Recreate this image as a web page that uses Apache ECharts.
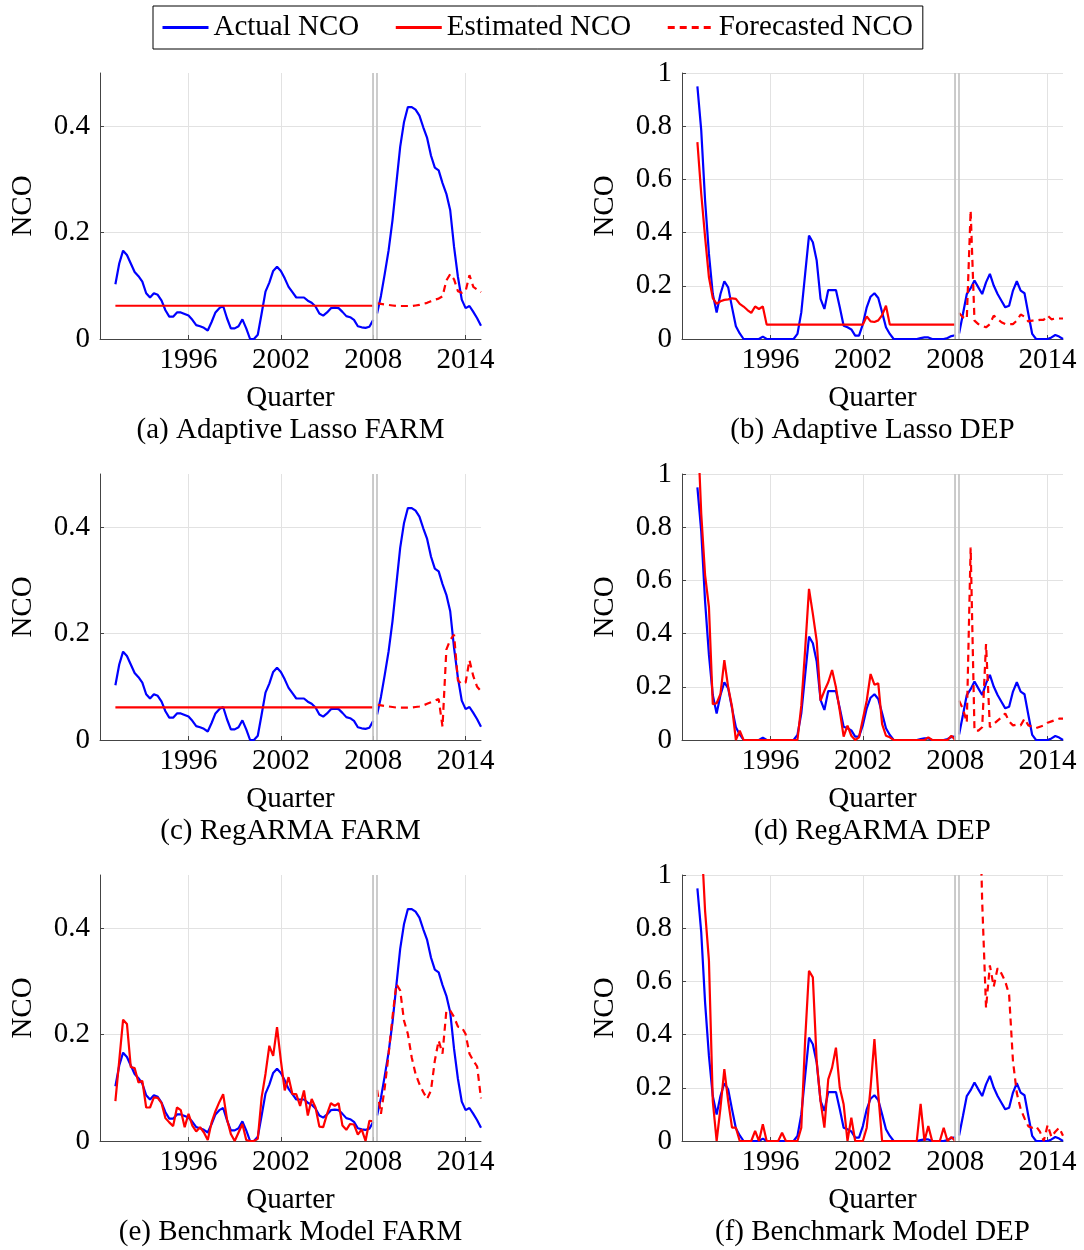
<!DOCTYPE html>
<html>
<head>
<meta charset="utf-8">
<script src="https://cdn.jsdelivr.net/npm/echarts@6/dist/echarts.min.js"></script>
<style>
html, body { margin: 0; background: #fff; }
#main { width: 1084px; height: 1250px; }
</style>
</head>
<body>
<div id="main"></div>
<script>
// quarterly NCO, first quarter 1991Q2, last 2015Q1; in-sample up to 2008Q1 (68 qtrs), forecast 28 qtrs
var startQuarter = 1991.25;
var xTicks = [1996, 2002, 2008, 2014];
var farmTicks = [0, 0.2, 0.4];
var captions = ['(a) Adaptive Lasso FARM', '(b) Adaptive Lasso DEP', '(c) RegARMA FARM',
                '(d) RegARMA DEP', '(e) Benchmark Model FARM', '(f) Benchmark Model DEP'];

var farmActualIn = [
  0.103, 0.142, 0.166, 0.158, 0.142, 0.126, 0.118, 0.108, 0.086, 0.078,
  0.086, 0.083, 0.072, 0.054, 0.042, 0.042, 0.050, 0.050, 0.047, 0.044,
  0.036, 0.026, 0.024, 0.021, 0.016, 0.032, 0.050, 0.058, 0.062, 0.039,
  0.020, 0.020, 0.024, 0.037, 0.020, 0.000, 0.000, 0.008, 0.048, 0.089,
  0.106, 0.128, 0.136, 0.128, 0.114, 0.098, 0.088, 0.078, 0.078, 0.078,
  0.072, 0.068, 0.061, 0.048, 0.044, 0.050, 0.058, 0.059, 0.058, 0.051,
  0.043, 0.041, 0.036, 0.024, 0.022, 0.021, 0.023, 0.036];
var farmActualOut = [
  0.048, 0.081, 0.123, 0.167, 0.223, 0.292, 0.361, 0.408, 0.436, 0.436,
  0.431, 0.420, 0.398, 0.378, 0.345, 0.322, 0.317, 0.293, 0.273, 0.242,
  0.173, 0.117, 0.074, 0.058, 0.062, 0.051, 0.039, 0.025];

var depActualIn = [
  0.950, 0.784, 0.520, 0.320, 0.169, 0.100, 0.169, 0.217, 0.194, 0.119,
  0.048, 0.021, 0.000, 0.000, 0.000, 0.000, 0.000, 0.009, 0.000, 0.000,
  0.000, 0.000, 0.000, 0.000, 0.000, 0.000, 0.019, 0.100, 0.245, 0.389,
  0.364, 0.295, 0.151, 0.113, 0.184, 0.184, 0.184, 0.119, 0.050, 0.044,
  0.036, 0.013, 0.013, 0.056, 0.119, 0.159, 0.172, 0.154, 0.100, 0.044,
  0.019, 0.000, 0.000, 0.000, 0.000, 0.000, 0.000, 0.000, 0.003, 0.006,
  0.006, 0.000, 0.000, 0.000, 0.000, 0.004, 0.011, 0.014];
var depActualOut = [
  0.021, 0.094, 0.169, 0.191, 0.220, 0.194, 0.169, 0.213, 0.245, 0.201,
  0.169, 0.144, 0.119, 0.125, 0.182, 0.217, 0.182, 0.172, 0.094, 0.019,
  0.000, 0.000, 0.000, 0.000, 0.006, 0.015, 0.009, 0.000];

// (a) adaptive lasso FARM
var lassoFarmEst = [
  0.0625, 0.0625, 0.0625, 0.0625, 0.0625, 0.0625, 0.0625, 0.0625, 0.0625, 0.0625,
  0.0625, 0.0625, 0.0625, 0.0625, 0.0625, 0.0625, 0.0625, 0.0625, 0.0625, 0.0625,
  0.0625, 0.0625, 0.0625, 0.0625, 0.0625, 0.0625, 0.0625, 0.0625, 0.0625, 0.0625,
  0.0625, 0.0625, 0.0625, 0.0625, 0.0625, 0.0625, 0.0625, 0.0625, 0.0625, 0.0625,
  0.0625, 0.0625, 0.0625, 0.0625, 0.0625, 0.0625, 0.0625, 0.0625, 0.0625, 0.0625,
  0.0625, 0.0625, 0.0625, 0.0625, 0.0625, 0.0625, 0.0625, 0.0625, 0.0625, 0.0625,
  0.0625, 0.0625, 0.0625, 0.0625, 0.0625, 0.0625, 0.0625, 0.0625];
var lassoFarmFc = [
  0.067, 0.066, 0.065, 0.064, 0.063, 0.062, 0.062, 0.062, 0.062, 0.062,
  0.063, 0.064, 0.066, 0.068, 0.071, 0.074, 0.076, 0.080, 0.110, 0.122,
  0.112, 0.090, 0.087, 0.090, 0.120, 0.098, 0.093, 0.088];

// (b) adaptive lasso DEP
var lassoDepEst = [
  0.740, 0.546, 0.383, 0.232, 0.154, 0.132, 0.142, 0.147, 0.149, 0.153,
  0.151, 0.132, 0.122, 0.109, 0.098, 0.122, 0.113, 0.122, 0.054, 0.054,
  0.054, 0.054, 0.054, 0.054, 0.054, 0.054, 0.054, 0.054, 0.054, 0.054,
  0.054, 0.054, 0.054, 0.054, 0.054, 0.054, 0.054, 0.054, 0.054, 0.054,
  0.054, 0.054, 0.054, 0.054, 0.085, 0.066, 0.064, 0.070, 0.090, 0.125,
  0.054, 0.054, 0.054, 0.054, 0.054, 0.054, 0.054, 0.054, 0.054, 0.054,
  0.054, 0.054, 0.054, 0.054, 0.054, 0.054, 0.054, 0.054];
var lassoDepFc = [
  0.098, 0.082, 0.075, 0.483, 0.069, 0.056, 0.050, 0.044, 0.056, 0.088,
  0.075, 0.063, 0.056, 0.056, 0.056, 0.069, 0.092, 0.084, 0.066, 0.069,
  0.069, 0.072, 0.072, 0.088, 0.074, 0.077, 0.077, 0.077];

// (c) RegARMA FARM
var regarmaFarmEst = [
  0.0615, 0.0615, 0.0615, 0.0615, 0.0615, 0.0615, 0.0615, 0.0615, 0.0615, 0.0615,
  0.0615, 0.0615, 0.0615, 0.0615, 0.0615, 0.0615, 0.0615, 0.0615, 0.0615, 0.0615,
  0.0615, 0.0615, 0.0615, 0.0615, 0.0615, 0.0615, 0.0615, 0.0615, 0.0615, 0.0615,
  0.0615, 0.0615, 0.0615, 0.0615, 0.0615, 0.0615, 0.0615, 0.0615, 0.0615, 0.0615,
  0.0615, 0.0615, 0.0615, 0.0615, 0.0615, 0.0615, 0.0615, 0.0615, 0.0615, 0.0615,
  0.0615, 0.0615, 0.0615, 0.0615, 0.0615, 0.0615, 0.0615, 0.0615, 0.0615, 0.0615,
  0.0615, 0.0615, 0.0615, 0.0615, 0.0615, 0.0615, 0.0615, 0.0615];
var regarmaFarmFc = [
  0.066, 0.065, 0.064, 0.063, 0.062, 0.061, 0.061, 0.061, 0.061, 0.061,
  0.062, 0.063, 0.065, 0.068, 0.071, 0.074, 0.077, 0.025, 0.170, 0.188,
  0.198, 0.112, 0.105, 0.108, 0.150, 0.120, 0.100, 0.092];

// (d) RegARMA DEP
var regarmaDepEst = [
  1.200, 0.850, 0.620, 0.500, 0.135, 0.138, 0.173, 0.300, 0.198, 0.125,
  0.000, 0.035, 0.000, 0.000, 0.000, 0.000, 0.000, 0.000, 0.000, 0.000,
  0.000, 0.000, 0.000, 0.000, 0.000, 0.000, 0.000, 0.129, 0.340, 0.568,
  0.474, 0.373, 0.148, 0.185, 0.217, 0.263, 0.198, 0.110, 0.013, 0.054,
  0.016, 0.000, 0.010, 0.079, 0.148, 0.248, 0.208, 0.213, 0.060, 0.016,
  0.010, 0.000, 0.000, 0.000, 0.000, 0.000, 0.000, 0.000, 0.000, 0.000,
  0.010, 0.000, 0.000, 0.000, 0.000, 0.000, 0.016, 0.000];
var regarmaDepFc = [
  0.148, 0.117, 0.066, 0.724, 0.035, 0.035, 0.048, 0.361, 0.048, 0.060,
  0.073, 0.085, 0.100, 0.070, 0.055, 0.058, 0.055, 0.080, 0.055, 0.050,
  0.045, 0.050, 0.055, 0.065, 0.070, 0.075, 0.080, 0.080];

// (e) benchmark FARM
var benchFarmEst = [
  0.075, 0.151, 0.228, 0.220, 0.139, 0.137, 0.110, 0.113, 0.063, 0.063,
  0.082, 0.081, 0.071, 0.043, 0.035, 0.028, 0.063, 0.058, 0.026, 0.051,
  0.029, 0.018, 0.026, 0.016, 0.002, 0.035, 0.056, 0.073, 0.088, 0.041,
  0.013, 0.000, 0.016, 0.032, 0.002, 0.000, 0.000, 0.004, 0.082, 0.126,
  0.179, 0.160, 0.214, 0.151, 0.095, 0.120, 0.088, 0.088, 0.066, 0.095,
  0.048, 0.079, 0.063, 0.027, 0.026, 0.051, 0.071, 0.066, 0.071, 0.029,
  0.021, 0.032, 0.031, 0.012, 0.022, 0.000, 0.038, 0.037];
var benchFarmFc = [
  0.096, 0.051, 0.101, 0.164, 0.233, 0.295, 0.283, 0.226, 0.201, 0.157,
  0.126, 0.107, 0.092, 0.079, 0.095, 0.151, 0.189, 0.164, 0.245, 0.245,
  0.233, 0.215, 0.214, 0.201, 0.164, 0.151, 0.140, 0.080];

// (f) benchmark DEP
var benchDepEst = [
  1.300, 1.150, 0.864, 0.678, 0.150, 0.000, 0.125, 0.270, 0.150, 0.050,
  0.050, 0.000, 0.000, 0.000, 0.000, 0.038, 0.000, 0.063, 0.000, 0.000,
  0.000, 0.000, 0.031, 0.000, 0.000, 0.000, 0.000, 0.050, 0.380, 0.640,
  0.615, 0.300, 0.150, 0.050, 0.232, 0.276, 0.351, 0.200, 0.138, 0.000,
  0.088, 0.000, 0.000, 0.000, 0.050, 0.200, 0.383, 0.176, 0.000, 0.000,
  0.000, 0.000, 0.000, 0.000, 0.000, 0.000, 0.000, 0.000, 0.140, 0.000,
  0.056, 0.000, 0.000, 0.000, 0.050, 0.000, 0.015, 0.000];
var benchDepFc = [
  1.600, 1.900, 2.100, 2.000, 1.800, 1.500, 0.900, 0.500, 0.660, 0.580,
  0.650, 0.630, 0.600, 0.550, 0.300, 0.180, 0.120, 0.085, 0.055, 0.050,
  0.055, 0.035, 0.000, 0.060, 0.015, 0.035, 0.050, 0.020];

var panels = [
  {actIn: farmActualIn, actOut: farmActualOut, est: lassoFarmEst, fc: lassoFarmFc, dep: false},
  {actIn: depActualIn, actOut: depActualOut, est: lassoDepEst, fc: lassoDepFc, dep: true},
  {actIn: farmActualIn, actOut: farmActualOut, est: regarmaFarmEst, fc: regarmaFarmFc, dep: false},
  {actIn: depActualIn, actOut: depActualOut, est: regarmaDepEst, fc: regarmaDepFc, dep: true},
  {actIn: farmActualIn, actOut: farmActualOut, est: benchFarmEst, fc: benchFarmFc, dep: false},
  {actIn: depActualIn, actOut: depActualOut, est: benchDepEst, fc: benchDepFc, dep: true}
];

var font = 'Liberation Serif';
var fs = 29;
var colLeft = [100, 682];
var rowTop = [73, 474, 875];
var gw = 381, gh = 266;
var lw = 2.2;

function toPoints(vals, offset) {
    return vals.map(function (v, i) {
        return [startQuarter + (offset + i) / 4, v];
    });
}

var grids = [], xAxes = [], yAxes = [], series = [], texts = [];

panels.forEach(function (p, k) {
    var col = k % 2, row = Math.floor(k / 2);
    grids.push({left: colLeft[col], top: rowTop[row], width: gw, height: gh});

    xAxes.push({
        type: 'value', gridIndex: k, min: 1990.25, max: 2015,
        name: 'Quarter', nameLocation: 'middle', nameGap: 45,
        nameTextStyle: {fontFamily: font, fontSize: fs, color: '#000'},
        axisLine: {lineStyle: {color: '#444', width: 1}},
        axisTick: {inside: true, length: 4, customValues: xTicks, lineStyle: {color: '#444'}},
        axisLabel: {customValues: xTicks, margin: 7, fontFamily: font, fontSize: fs, color: '#000',
            formatter: function (v) { return String(v); }},
        splitLine: {show: true, customValues: xTicks, lineStyle: {color: '#e2e2e2', width: 1}}
    });

    var y = {
        type: 'value', gridIndex: k, min: 0,
        name: 'NCO', nameLocation: 'middle', nameRotate: 90, nameGap: 62,
        nameTextStyle: {fontFamily: font, fontSize: fs, color: '#000'},
        axisLine: {show: true, lineStyle: {color: '#444', width: 1}},
        axisTick: {show: true, inside: true, length: 4, lineStyle: {color: '#444'}},
        axisLabel: {margin: 10, fontFamily: font, fontSize: fs, color: '#000'},
        splitLine: {show: true, lineStyle: {color: '#e2e2e2', width: 1}}
    };
    if (p.dep) {
        y.max = 1;
        y.interval = 0.2;
    } else {
        y.max = 0.5;
        y.axisTick.customValues = farmTicks;
        y.axisLabel.customValues = farmTicks;
        y.splitLine.customValues = farmTicks;
    }
    yAxes.push(y);

    var base = {type: 'line', xAxisIndex: k, yAxisIndex: k, symbol: 'none', showSymbol: false, silent: true};
    series.push(Object.assign({}, base, {
        name: 'Actual NCO', data: toPoints(p.actIn, 0), color: '#0000ff',
        lineStyle: {color: '#0000ff', width: lw},
        markLine: {silent: true, symbol: 'none', label: {show: false},
            lineStyle: {color: '#c4c4c4', width: 1.7, type: 'solid'},
            data: [{xAxis: 2008.0}, {xAxis: 2008.2}]}
    }));
    series.push(Object.assign({}, base, {
        name: 'Actual NCO', data: toPoints(p.actOut, 68), color: '#0000ff',
        lineStyle: {color: '#0000ff', width: lw}
    }));
    series.push(Object.assign({}, base, {
        name: 'Estimated NCO', data: toPoints(p.est, 0), color: '#ff0000',
        lineStyle: {color: '#ff0000', width: lw}
    }));
    series.push(Object.assign({}, base, {
        name: 'Forecasted NCO', data: toPoints(p.fc, 68), color: '#ff0000',
        lineStyle: {color: '#ff0000', width: lw, type: [7, 5]}
    }));

    texts.push({
        type: 'text', x: colLeft[col] + gw / 2, y: rowTop[row] + 357,
        style: {text: captions[k], font: fs + 'px "' + font + '"', fill: '#000',
            align: 'center', verticalAlign: 'middle'}
    });
});

var chart = echarts.init(document.getElementById('main'));
chart.setOption({
    animation: false,
    backgroundColor: '#fff',
    legend: {
        left: 153, top: 6, padding: [7, 10, 7, 8], itemGap: 35, itemWidth: 46, itemHeight: 14,
        borderColor: '#000', borderWidth: 1, borderRadius: 0,
        itemStyle: {opacity: 0},
        lineStyle: {width: 3},
        textStyle: {fontFamily: font, fontSize: fs, color: '#000'},
        data: ['Actual NCO', 'Estimated NCO', 'Forecasted NCO']
    },
    grid: grids,
    xAxis: xAxes,
    yAxis: yAxes,
    series: series,
    graphic: texts
});
</script>
</body>
</html>
